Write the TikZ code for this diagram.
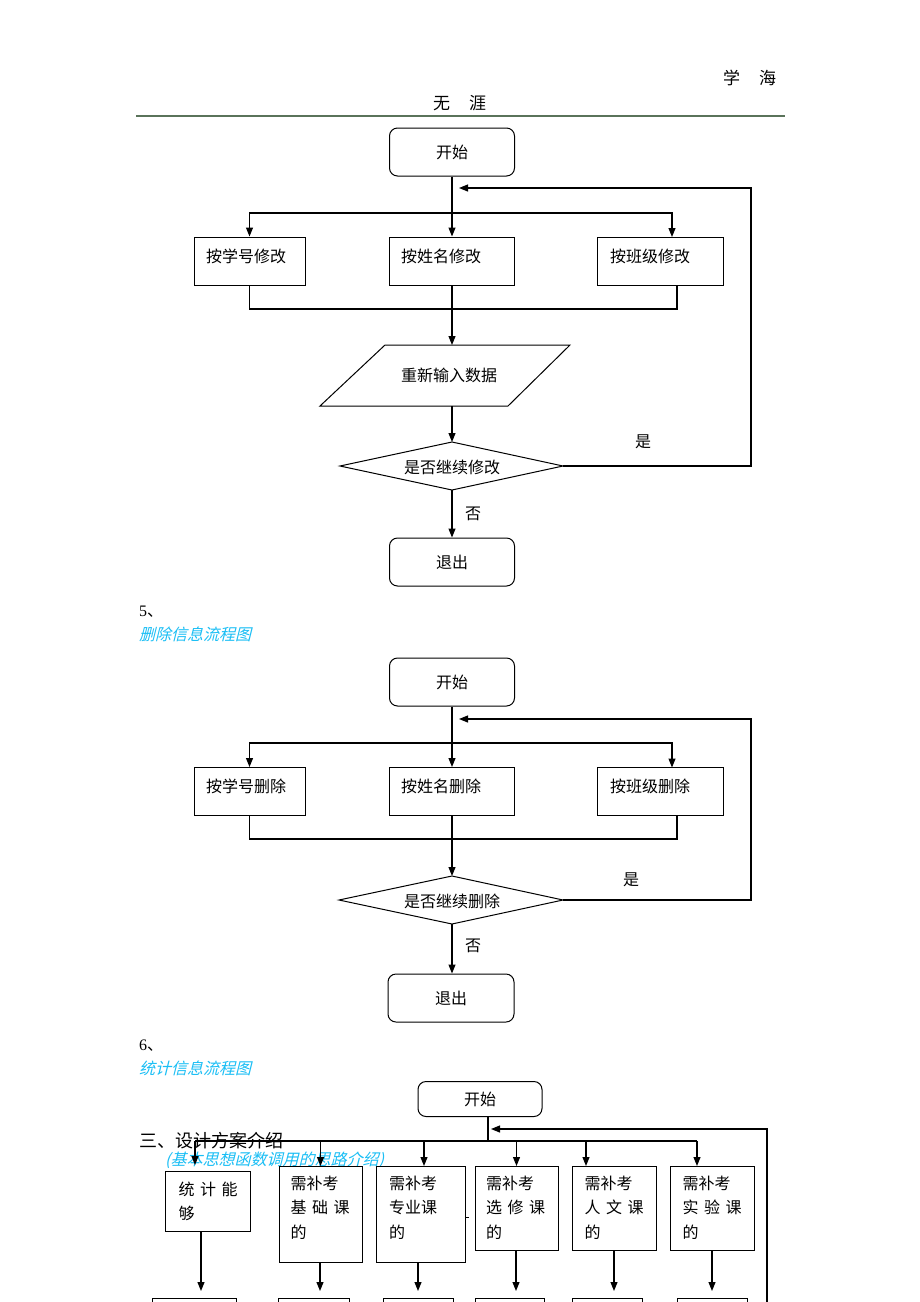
\documentclass[tikz,border=0pt]{standalone}
\usepackage{fontspec}
\setmainfont{Liberation Serif}
\newfontfamily\cjk{Noto Sans CJK SC}
\newfontfamily\cjkit[FakeSlant=0.25]{Noto Sans CJK SC}
\usetikzlibrary{arrows.meta}
\definecolor{hdrline}{RGB}{90,115,90}
\definecolor{cyantxt}{RGB}{25,190,245}
\newcommand{\lblsize}{\fontsize{16}{19}\selectfont}
\newcommand{\cgap}{\hspace{5.5pt}}
\begin{document}
\begin{tikzpicture}[x=1pt,y=-1pt,
  txt/.style={inner sep=0pt, font=\cjk\lblsize},
  ctxt/.style={inner sep=0pt, font=\cjkit\lblsize, text=cyantxt},
  sq/.style={draw, line width=1pt, fill=white, inner sep=0pt},
  rsq/.style={sq, rounded corners=8pt, font=\cjk\lblsize},
  conn/.style={line width=1.1pt},
  arr/.style={conn, -{Triangle[length=9pt,width=7pt]}},
  outline/.style={draw, line width=1pt, fill=white}]
\useasboundingbox (0,0) rectangle (920,1302);
\clip (0,0) rectangle (920,1302);
\fill[white] (0,0) rectangle (920,1302);

% header
\node[inner sep=0pt, font=\cjk\fontsize{17}{20}\selectfont, anchor=west] (hdA) at (723,78) {学\hspace{19pt}海};
\node[inner sep=0pt, font=\cjk\fontsize{17}{20}\selectfont, anchor=west] (hdB) at (433,103) {无\hspace{19pt}涯};
\draw[hdrline, line width=2pt] (136,116) -- (785,116);

% ===== diagram 1 =====
\node[rsq, minimum width=125pt, minimum height=48pt] (s1) at (452,152) {开始};
\node[sq, minimum width=111pt, minimum height=48pt] (a1) at (249.5,261) {};
\node[sq, minimum width=125pt, minimum height=48pt] (b1) at (452,261) {};
\node[sq, minimum width=126pt, minimum height=48pt] (c1) at (660,261) {};
\node[txt, anchor=west] (a1t) at (206,256) {按学号修改};
\node[txt, anchor=west] (b1t) at (401,256) {按姓名修改};
\node[txt, anchor=west] (c1t) at (610,256) {按班级修改};
\coordinate (j1) at (452,213);
\draw[arr] (s1.south) -- (b1.north);
\draw[arr] (j1) -| (a1.north);
\coordinate (c1n) at (672,237);
\draw[arr] (j1) -| (c1n);
\coordinate (k1) at (677,309);
\draw[conn] (a1.south) |- (k1) -- (k1 |- c1.south);
\draw[outline] (385,345) -- (570,345) -- (508,406) -- (320,406) -- cycle;
\coordinate (p1t) at (452,345);
\coordinate (p1b) at (452,406);
\node[txt] (p1) at (449,375) {重新输入数据};
\draw[arr] (b1.south) -- (p1t);
\draw[outline] (340,466) -- (452,442) -- (563,466) -- (452,490) -- cycle;
\coordinate (d1t) at (452,442);
\coordinate (d1b) at (452,490);
\coordinate (d1r) at (563,466);
\node[txt] (d1) at (452,467) {是否继续修改};
\draw[arr] (p1b) -- (d1t);
\node[rsq, minimum width=125pt, minimum height=48pt] (e1) at (452,562) {退出};
\draw[arr] (d1b) -- (e1.north);
\coordinate (r1) at (459,188);
\coordinate (q1) at (751,466);
\draw[arr] (d1r) -- (q1) |- (r1);
\node[txt] (y1) at (643,442) {是};
\node[txt] (n1) at (473,514) {否};

% ===== section 5 =====
\node[anchor=west, inner sep=0pt, font=\fontsize{16}{19}\selectfont] (n5) at (139,612) {5{\cjk 、}};
\node[ctxt, anchor=west] (t5) at (139,634) {删除信息流程图};

% ===== diagram 2 =====
\node[rsq, minimum width=125pt, minimum height=48pt] (s2) at (452,682) {开始};
\node[sq, minimum width=111pt, minimum height=48pt] (a2) at (249.5,791.5) {};
\node[sq, minimum width=125pt, minimum height=48pt] (b2) at (452,791.5) {};
\node[sq, minimum width=126pt, minimum height=48pt] (c2) at (660,791.5) {};
\node[txt, anchor=west] (a2t) at (206,786) {按学号删除};
\node[txt, anchor=west] (b2t) at (401,786) {按姓名删除};
\node[txt, anchor=west] (c2t) at (610,786) {按班级删除};
\coordinate (j2) at (452,743);
\draw[arr] (s2.south) -- (b2.north);
\draw[arr] (j2) -| (a2.north);
\coordinate (c2n) at (672,767.5);
\draw[arr] (j2) -| (c2n);
\coordinate (k2) at (677,839);
\draw[conn] (a2.south) |- (k2) -- (k2 |- c2.south);
\draw[outline] (339,900) -- (452,876) -- (563,900) -- (452,924) -- cycle;
\coordinate (d2t) at (452,876);
\coordinate (d2b) at (452,924);
\coordinate (d2r) at (563,900);
\node[txt] (d2) at (452,901) {是否继续删除};
\draw[arr] (b2.south) -- (d2t);
\node[rsq, minimum width=126pt, minimum height=48pt] (e2) at (451,998) {退出};
\draw[arr] (d2b) -- (e2.north -| d2b);
\coordinate (r2) at (459,719);
\coordinate (q2) at (751,900);
\draw[arr] (d2r) -- (q2) |- (r2);
\node[txt] (y2) at (631,880) {是};
\node[txt] (n2) at (473,946) {否};

% ===== section 6 =====
\node[anchor=west, inner sep=0pt, font=\fontsize{16}{19}\selectfont] (n6) at (139,1046) {6{\cjk 、}};
\node[ctxt, anchor=west] (t6) at (139,1068) {统计信息流程图};

% ===== diagram 3 =====
\node[txt, anchor=west, font=\cjk\fontsize{18}{21}\selectfont] (h3) at (139,1141) {三、设计方案介绍};
\node[ctxt, anchor=west] (h3b) at (165,1160) {(基本思想函数调用的思路介绍)};

\node[rsq, minimum width=124pt, minimum height=35pt] (s3) at (480,1099) {开始};
\coordinate (j3) at (488,1141);
\draw[conn] (j3 |- s3.south) -- (j3);
\coordinate (h3l) at (195,1141);
\coordinate (h3r) at (697,1141);
\draw[conn] (h3l) -- (h3r);

\coordinate (tA) at (195,1165);
\coordinate (tB) at (320.5,1166);
\coordinate (tC) at (424,1166);
\coordinate (tD) at (516.5,1166);
\coordinate (tE) at (586,1166);
\coordinate (tF) at (697,1166);
\foreach \t in {tA,tB,tC,tD,tE,tF} { \draw[arr] (\t |- h3l) -- (\t); }

\node[sq, minimum width=85pt, minimum height=60pt] (cA) at (207.5,1201) {};
\node[sq, minimum width=83pt, minimum height=96pt] (cB) at (320.5,1214) {};
\node[sq, minimum width=89pt, minimum height=96pt] (cC) at (421,1214) {};
\node[sq, minimum width=83pt, minimum height=84pt] (cD) at (516.5,1208) {};
\node[sq, minimum width=84pt, minimum height=84pt] (cE) at (614,1208) {};
\node[sq, minimum width=84pt, minimum height=84pt] (cF) at (712,1208) {};

\node[txt, anchor=west] (cA1) at (178.5,1189) {统\cgap 计\cgap 能};
\node[txt, anchor=west] (cA2) at (178.5,1213) {够};
\node[txt, anchor=west] (cB1) at (290.5,1183) {需补考};
\node[txt, anchor=west] (cB2) at (290.5,1207.5) {基\cgap 础\cgap 课};
\node[txt, anchor=west] (cB3) at (290.5,1232) {的};
\node[txt, anchor=west] (cC1) at (389,1183) {需补考};
\node[txt, anchor=west] (cC2) at (389,1207.5) {专业课};
\node[txt, anchor=west] (cC3) at (389,1232) {的};
\node[txt, anchor=west] (cD1) at (486,1183) {需补考};
\node[txt, anchor=west] (cD2) at (486,1207.5) {选\cgap 修\cgap 课};
\node[txt, anchor=west] (cD3) at (486,1232) {的};
\node[txt, anchor=west] (cE1) at (584.5,1183) {需补考};
\node[txt, anchor=west] (cE2) at (584.5,1207.5) {人\cgap 文\cgap 课};
\node[txt, anchor=west] (cE3) at (584.5,1232) {的};
\node[txt, anchor=west] (cF1) at (682.5,1183) {需补考};
\node[txt, anchor=west] (cF2) at (682.5,1207.5) {实\cgap 验\cgap 课};
\node[txt, anchor=west] (cF3) at (682.5,1232) {的};
\draw[line width=0.8pt] (465,1217) -- (468.5,1217);

% lower arrows
\coordinate (uA) at (201,1291);
\coordinate (uB) at (320,1291);
\coordinate (uC) at (418,1291);
\coordinate (uD) at (516,1291);
\coordinate (uE) at (614,1291);
\coordinate (uF) at (712,1291);
\draw[arr] (uA |- cA.south) -- (uA);
\draw[arr] (uB |- cB.south) -- (uB);
\draw[arr] (uC |- cC.south) -- (uC);
\draw[arr] (uD |- cD.south) -- (uD);
\draw[arr] (uE |- cE.south) -- (uE);
\draw[arr] (uF |- cF.south) -- (uF);

% lower (cut-off) boxes
\node[sq, anchor=north, minimum width=84pt, minimum height=40pt] (bA) at (194,1298) {};
\node[sq, anchor=north, minimum width=71pt, minimum height=40pt] (bB) at (313.5,1298) {};
\node[sq, anchor=north, minimum width=70pt, minimum height=40pt] (bC) at (418,1298) {};
\node[sq, anchor=north, minimum width=69pt, minimum height=40pt] (bD) at (509.5,1298) {};
\node[sq, anchor=north, minimum width=70pt, minimum height=40pt] (bE) at (607,1298) {};
\node[sq, anchor=north, minimum width=70pt, minimum height=40pt] (bF) at (712,1298) {};

% return loop
\coordinate (r3) at (491,1129);
\coordinate (q3) at (767,1320);
\draw[arr] (q3) |- (r3);
\end{tikzpicture}
\end{document}
